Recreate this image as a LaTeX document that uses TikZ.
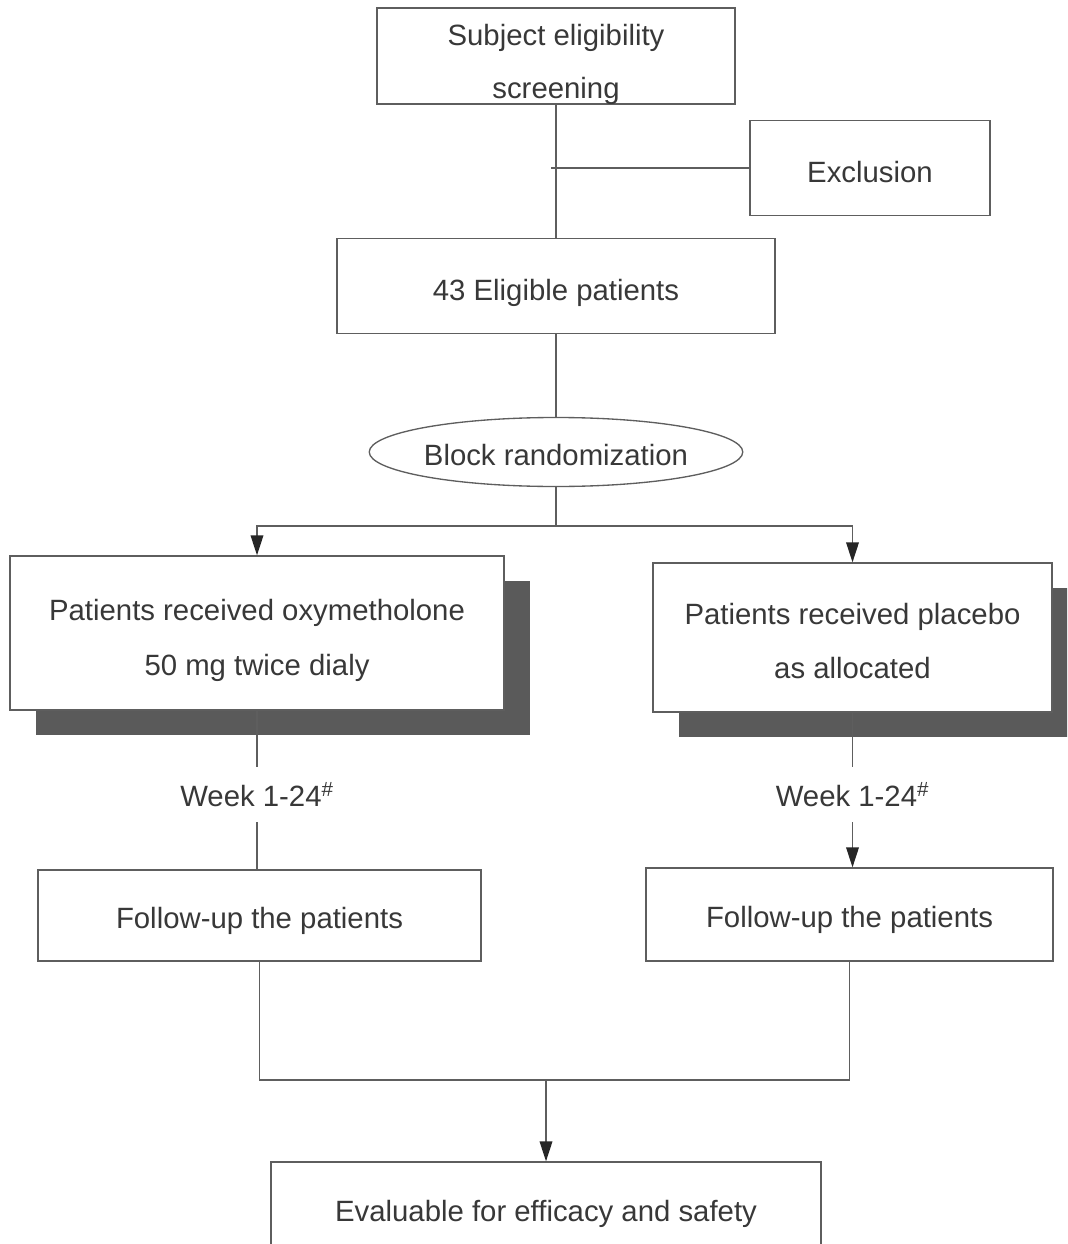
\documentclass[tikz,border=0pt]{standalone}
\usepackage{fontspec}
\setmainfont{Liberation Sans}
\usetikzlibrary{arrows.meta,shapes.geometric,shadows}
\definecolor{linec}{HTML}{5E5E5E}
\definecolor{txtc}{HTML}{383838}
\definecolor{shadc}{HTML}{5A5A5A}
\begin{document}
\begin{tikzpicture}[x=0.75pt,y=-0.75pt,
  conn/.style={draw=linec, line width=1pt},
  arr/.style={conn, -{Triangle[length=15pt,width=9.5pt,color=black!85]}},
  box/.style={draw=linec, line width=1pt, fill=white, text=txtc, align=center,
    font=\fontsize{22}{41}\selectfont, inner sep=0pt, text height=22pt, text depth=0pt},
  twoline/.style={text height=63.8pt, text depth=0pt},
  shbox/.style={box, drop shadow={shadow xshift=19.5pt, shadow yshift=-18.75pt, fill=shadc, opacity=1}},
  oval/.style={box, ellipse},
  lbl/.style={text=txtc, font=\fontsize{22}{26}\selectfont, inner sep=0pt, align=center}]
\clip (0,0) rectangle (1067,1244);
\fill[white] (0,0) rectangle (1067,1244);

\node[box, twoline, font=\fontsize{22}{39.75}\selectfont, minimum width=358*0.75pt, minimum height=96*0.75pt] (screen) at (556,56) {Subject eligibility\\screening};
\node[box, minimum width=240*0.75pt, minimum height=95*0.75pt] (excl) at (870,168) {Exclusion};
\node[box, minimum width=438*0.75pt, minimum height=95*0.75pt] (elig) at (556,286) {43 Eligible patients};
\node[oval, text height=20.5pt, minimum width=357*0.75pt, minimum height=69*0.75pt] (rand) at (556,452) {Block randomization};
\node[shbox, twoline, minimum width=494*0.75pt, minimum height=154*0.75pt] (oxy) at (257,633) {Patients received oxymetholone\\50 mg twice dialy};
\node[shbox, twoline, text height=62pt, minimum width=399*0.75pt, minimum height=149*0.75pt] (plac) at (852.5,637.5) {Patients received placebo\\as allocated};
\node[lbl, minimum height=55*0.75pt] (weekL) at (257,794.5) {Week 1-24\textsuperscript{\#}};
\node[lbl, minimum height=55*0.75pt] (weekR) at (852.5,794.5) {Week 1-24\textsuperscript{\#}};
\node[box, text height=20pt, minimum width=443*0.75pt, minimum height=91*0.75pt] (fuL) at (259.5,915.5) {Follow-up the patients};
\node[box, text height=20pt, minimum width=407*0.75pt, minimum height=93*0.75pt] (fuR) at (849.5,914.5) {Follow-up the patients};
\node[box, text height=17pt, minimum width=550*0.75pt, minimum height=96*0.75pt] (eval) at (546,1210) {Evaluable for efficacy and safety};

\coordinate (exstart) at (551,168);
\coordinate (split) at (556,526);
\coordinate (join) at (546,1080);

\draw[conn] (screen.south) -- (elig.north);
\draw[conn] (exstart) -- (excl.west);
\draw[conn] (elig.south) -- (rand.north);
\draw[conn] (rand.south) -- (split);
\draw[arr] (split) -| (oxy.north);
\draw[arr] (split) -| (plac.north);
\draw[conn] (oxy.south) -- (weekL.north);
\draw[conn] (weekL.south) -- (weekL.south |- fuL.north);
\draw[conn] (plac.south) -- (weekR.north);
\draw[arr] (weekR.south) -- (weekR.south |- fuR.north);
\draw[conn] (fuL.south) |- (join) -| (fuR.south);
\draw[arr] (join) -- (eval.north);
\end{tikzpicture}
\end{document}
